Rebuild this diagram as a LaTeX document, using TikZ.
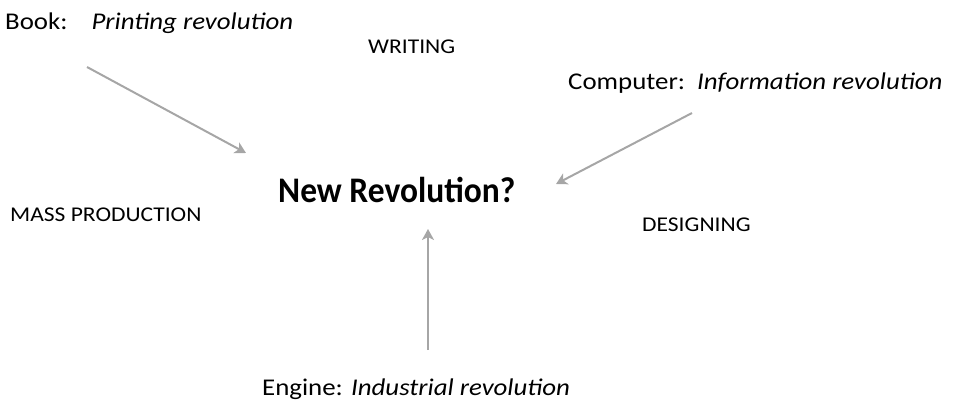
\documentclass[tikz,border=0pt]{standalone}
\usepackage{fontspec}
\setmainfont{Carlito}
\newfontfamily\widefont[FakeStretch=1.12]{Carlito}
\newfontfamily\headfont[FakeStretch=0.93]{Carlito}
\usetikzlibrary{arrows.meta}
\begin{document}
\begin{tikzpicture}[x=1pt,y=-1pt,
  lbl/.style={inner sep=0pt,anchor=base west,font=\widefont\fontsize{24}{28}\selectfont},
  caps/.style={inner sep=0pt,anchor=base west,font=\widefont\fontsize{21}{25}\selectfont},
  title/.style={inner sep=0pt,anchor=base west,font=\headfont\fontsize{36}{42}\selectfont\bfseries},
  feed/.style={draw=black!35,line width=2pt,-{Stealth[length=11pt,width=12pt,inset=3pt]}}]
\useasboundingbox (0,0) rectangle (956,402);
\node[lbl] (book) at (5,29) {Book:\hspace{1em}\textit{Printing revolution}};
\node[caps] (writing) at (368,53) {WRITING};
\node[lbl] (comp) at (568,89) {Computer:\hspace{0.5em}\textit{Information revolution}};
\node[title] (new) at (278,202) {New Revolution?};
\node[caps] (mass) at (10,221) {MASS PRODUCTION};
\node[caps] (design) at (642,231) {DESIGNING};
\node[lbl] (engine) at (262,395) {Engine: \textit{Industrial revolution}};
\coordinate (b0) at (87,67);
\coordinate (b1) at (246,153);
\coordinate (c0) at (692,113);
\coordinate (c1) at (556,184);
\coordinate (e0) at (428,350);
\coordinate (e1) at (428,229);
\draw[feed] (b0) -- (b1);
\draw[feed] (c0) -- (c1);
\draw[feed] (e0) -- (e1);
\end{tikzpicture}
\end{document}
